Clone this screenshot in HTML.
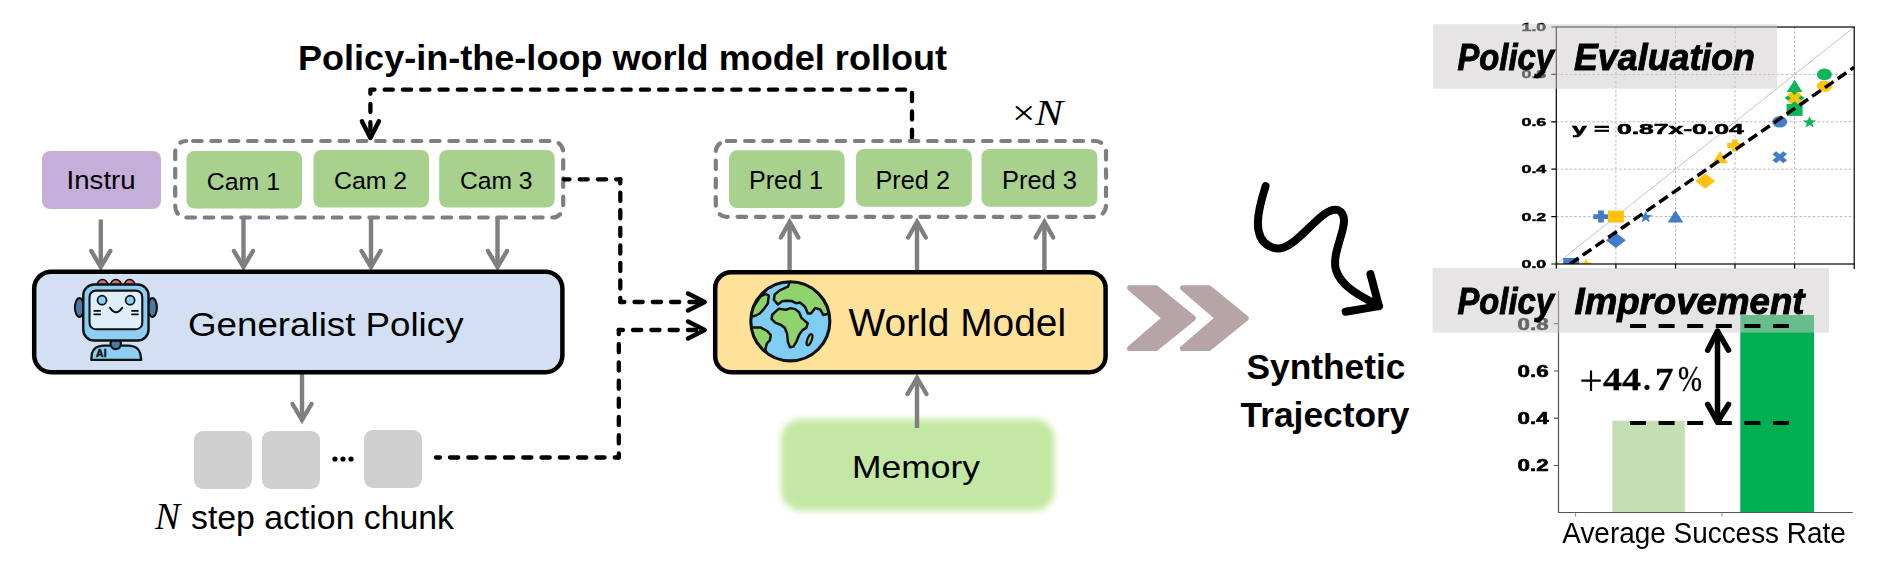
<!DOCTYPE html>
<html><head><meta charset="utf-8">
<style>
html,body{margin:0;padding:0;background:#fff;}
body{width:1890px;height:576px;overflow:hidden;}
svg{display:block;}
svg{font-family:"Liberation Sans",sans-serif;}
</style></head>
<body>
<svg width="1890" height="576" viewBox="0 0 1890 576">
<rect x="0" y="0" width="1890" height="576" fill="#fff"/>
<!-- Title -->
<text x="298" y="69.5" font-size="35" font-weight="bold" textLength="649" lengthAdjust="spacingAndGlyphs">Policy-in-the-loop world model rollout</text>

<!-- top black dashed loop -->
<path d="M370.4,136 V89.7 H912 V142" fill="none" stroke="#000" stroke-width="4.3" stroke-dasharray="8.2 10.1" stroke-dashoffset="12.7" stroke-linecap="round" stroke-linejoin="round"/>
<path d="M361.9,121.3 L370.4,138 L378.9,121.3" fill="none" stroke="#000" stroke-width="4.5" stroke-linecap="round" stroke-linejoin="round"/>

<!-- Instru -->
<rect x="42" y="151" width="119" height="58" rx="8" fill="#c5aed8"/>
<text x="66.6" y="189" font-size="25" textLength="69" lengthAdjust="spacingAndGlyphs">Instru</text>

<!-- cam group dashed -->
<rect x="175.2" y="141" width="388" height="76.5" rx="11" fill="none" stroke="#7f7f7f" stroke-width="4.2" stroke-dasharray="8.6 9.7" stroke-dashoffset="11.4" stroke-linecap="round"/>
<rect x="186.5" y="151" width="115.5" height="57.5" rx="8" fill="#a9d18e"/>
<rect x="313.5" y="150" width="115.5" height="57.5" rx="8" fill="#a9d18e"/>
<rect x="439.2" y="150" width="115.5" height="57.5" rx="8" fill="#a9d18e"/>
<text x="206.8" y="190" font-size="24.5" textLength="73.2" lengthAdjust="spacingAndGlyphs">Cam 1</text>
<text x="334" y="188.8" font-size="24.5" textLength="73.2" lengthAdjust="spacingAndGlyphs">Cam 2</text>
<text x="460" y="188.8" font-size="24.5" textLength="72.5" lengthAdjust="spacingAndGlyphs">Cam 3</text>

<defs><filter id="blur1" x="-10%" y="-20%" width="120%" height="140%"><feGaussianBlur stdDeviation="3"/></filter></defs>
<rect x="781" y="419" width="273.6" height="91.6" rx="20" fill="#c3e8a3" filter="url(#blur1)"/>
<!-- gray down arrows -->
<g stroke="#7f7f7f" stroke-width="4.4" fill="none" stroke-linecap="butt" stroke-linejoin="miter">
  <path d="M100.8,219.5 V267"/><path d="M243.5,217 V267"/><path d="M371,217 V267"/><path d="M497.5,217 V267"/>
  <path d="M302,374 V420"/>
  <path d="M789.6,270 V222"/><path d="M917,270 V222"/><path d="M1044.4,270 V222"/>
  <path d="M917,428 V378"/>
</g>
<g stroke="#7f7f7f" stroke-width="4.4" fill="none" stroke-linecap="round" stroke-linejoin="miter" stroke-miterlimit="10">
  <path d="M91.3,251 L100.8,267 L110.3,251"/>
  <path d="M234,251 L243.5,267 L253,251"/>
  <path d="M361.5,251 L371,267 L380.5,251"/>
  <path d="M488,251 L497.5,267 L507,251"/>
  <path d="M292.5,404 L302,420 L311.5,404"/>
  <path d="M780.8,237.5 L789.6,222 L798.4,237.5"/>
  <path d="M908.2,237.5 L917,222 L925.8,237.5"/>
  <path d="M1035.6,237.5 L1044.4,222 L1053.2,237.5"/>
  <path d="M907.5,394 L917,378 L926.5,394"/>
</g>
<!-- Generalist Policy -->
<rect x="34.2" y="271.7" width="528.2" height="100.5" rx="17" fill="#d3dff2" stroke="#000" stroke-width="4.5"/>
<text x="188" y="335.5" font-size="34" textLength="275.5" lengthAdjust="spacingAndGlyphs">Generalist Policy</text>

<!-- action chunk -->
<rect x="194" y="431" width="58" height="58" rx="9" fill="#d0cfcf"/>
<rect x="262" y="431" width="58" height="58" rx="9" fill="#d0cfcf"/>
<rect x="364" y="430" width="58" height="58" rx="9" fill="#d0cfcf"/>
<circle cx="335" cy="459" r="2.6" fill="#000"/><circle cx="343" cy="459" r="2.6" fill="#000"/><circle cx="351" cy="459" r="2.6" fill="#000"/>
<text x="155" y="528.6" font-size="37" style="font-family:'Liberation Serif',serif" font-style="italic" textLength="25" lengthAdjust="spacingAndGlyphs">N</text>
<text x="191" y="528.6" font-size="33" textLength="263" lengthAdjust="spacingAndGlyphs">step action chunk</text>

<!-- black dashed connectors -->
<g fill="none" stroke="#000" stroke-width="4.3" stroke-linecap="round" stroke-linejoin="round" stroke-dasharray="8.2 10.1" stroke-dashoffset="4.1">
  <path d="M620.3,179.3 H564"/>
  <path d="M620.3,179.3 V302" stroke-dasharray="8.2 9.33"/>
  <path d="M620.3,302 H698"/>
  <path d="M618.8,457.5 H436"/>
  <path d="M618.8,457.5 V330" stroke-dasharray="8.2 10.01"/>
  <path d="M618.8,330 H698"/>
</g>
<g fill="none" stroke="#000" stroke-width="4.5" stroke-linecap="round" stroke-linejoin="round">
  <path d="M688,293.5 L704.7,302 L688,310.5"/>
  <path d="M688,321.5 L704.7,330 L688,338.5"/>
</g>

<!-- Pred group -->
<rect x="715.8" y="141" width="390.2" height="75.8" rx="11" fill="none" stroke="#7f7f7f" stroke-width="4.2" stroke-dasharray="8.6 9.7" stroke-linecap="round"/>
<rect x="729" y="150.3" width="115.6" height="57.7" rx="8" fill="#a9d18e"/>
<rect x="856" y="149" width="115.8" height="57.7" rx="8" fill="#a9d18e"/>
<rect x="981.5" y="149" width="115.9" height="57.7" rx="8" fill="#a9d18e"/>
<text x="749" y="189.2" font-size="25" textLength="74" lengthAdjust="spacingAndGlyphs">Pred 1</text>
<text x="875.5" y="188.6" font-size="25" textLength="74.5" lengthAdjust="spacingAndGlyphs">Pred 2</text>
<text x="1002" y="188.6" font-size="25" textLength="75" lengthAdjust="spacingAndGlyphs">Pred 3</text>
<text x="1012" y="125" font-size="36" style="font-family:'Liberation Serif',serif" textLength="51" lengthAdjust="spacingAndGlyphs">×<tspan font-style="italic">N</tspan></text>

<!-- World Model -->
<rect x="715.2" y="272.2" width="390.4" height="100" rx="16" fill="#ffe299" stroke="#000" stroke-width="4.5"/>
<text x="848.5" y="336.2" font-size="39" textLength="217.6" lengthAdjust="spacingAndGlyphs">World Model</text>


<!-- robot icon -->
<g transform="translate(60,270) scale(0.17361)" stroke="#111" stroke-linejoin="round" stroke-linecap="round">
  <ellipse cx="245" cy="88" rx="31" ry="33" fill="#d9686c" stroke-width="9"/>
  <ellipse cx="322" cy="88" rx="31" ry="33" fill="#d9686c" stroke-width="9"/>
  <ellipse cx="401" cy="88" rx="31" ry="33" fill="#d9686c" stroke-width="9"/>
  <ellipse cx="112" cy="216" rx="26" ry="54" fill="#4a79a3" stroke-width="12"/>
  <ellipse cx="532" cy="216" rx="26" ry="54" fill="#4a79a3" stroke-width="12"/>
  <path d="M180,518 L184,480 Q196,438 250,436 L395,436 Q450,438 462,480 L468,518 Z" fill="#8ccff3" stroke-width="13"/>
  <circle cx="321" cy="426" r="30" fill="#4a79a3" stroke-width="12"/>
  <rect x="134" y="84" width="376" height="322" rx="62" fill="#8ccff3" stroke-width="14"/>
  <rect x="170" y="119" width="304" height="222" rx="36" fill="#dfeffa" stroke-width="12"/>
  <circle cx="242" cy="174" r="26" fill="#8ccff3" stroke-width="10"/>
  <circle cx="404" cy="174" r="26" fill="#8ccff3" stroke-width="10"/>
  <path d="M288,218 Q323,268 358,218" fill="none" stroke-width="11"/>
  <path d="M197,235 H232 M197,255 H232 M414,235 H449 M414,255 H449" fill="none" stroke-width="10"/>
  <text x="208" y="502" font-size="60" font-weight="bold" fill="#111" stroke="#111" stroke-width="3" textLength="60" lengthAdjust="spacingAndGlyphs">AI</text>
</g>
<!-- globe icon -->
<g transform="translate(745,276) scale(0.15625)" stroke="#111" stroke-linejoin="round" stroke-linecap="round">
  <circle cx="290" cy="290" r="253" fill="#7fcdf3" stroke-width="0"/>
  <clipPath id="gclip"><circle cx="290" cy="290" r="253"/></clipPath>
  <g clip-path="url(#gclip)" fill="#8fd36d" stroke-width="16">
    <path d="M290,30 L275,68 L222,92 L190,118 L185,152 L210,182 L238,162 L262,158 L298,160 L330,175 L352,170 L385,198 L402,240 L422,240 L450,205 L482,215 L502,250 L535,240 L560,180 L520,80 L420,20 Z"/>
    <path d="M185,238 L215,210 L262,216 L292,206 L322,212 L346,232 L360,266 L388,292 L402,302 L392,332 L366,348 L346,378 L330,418 L310,452 L288,456 L274,420 L270,372 L255,332 L228,312 L196,300 L170,276 L174,248 Z"/>
    <path d="M20,330 L102,330 L142,352 L165,378 L160,410 L140,432 L130,468 L142,500 L60,560 L0,500 Z"/>
    <path d="M30,230 L100,130 L132,114 L152,125 L146,176 L120,212 L95,240 L62,256 L20,260 Z"/>
  </g>
  <ellipse cx="413" cy="408" rx="14" ry="38" transform="rotate(20 413 408)" fill="#8fd36d" stroke-width="14"/>
  <circle cx="290" cy="290" r="253" fill="none" stroke-width="20"/>
</g>

<!-- Memory -->

<text x="852" y="477.9" font-size="32" textLength="128" lengthAdjust="spacingAndGlyphs">Memory</text>

<!-- Chevrons -->
<path d="M1129.5,287.8 H1156 L1193.5,318.2 L1156,348.5 H1129.5 L1164.5,318.2 Z" fill="#b7a5a5" stroke="#b7a5a5" stroke-width="5" stroke-linejoin="round"/>
<path d="M1182.4,287.8 H1209 L1246.4,318.2 L1209,348.5 H1182.4 L1217.5,318.2 Z" fill="#b7a5a5" stroke="#b7a5a5" stroke-width="5" stroke-linejoin="round"/>

<!-- squiggle -->
<path d="M1265.6,186.1 C1258,210 1250,240 1273.3,247.8 C1295,255 1320,205 1338,210 C1355,218 1330,250 1336,270 C1342,290 1370,300 1378.9,306.1" fill="none" stroke="#000" stroke-width="8" stroke-linecap="round" stroke-linejoin="round"/>
<path d="M1370.5,274.2 L1378.9,306.1 L1345.6,311.7" fill="none" stroke="#000" stroke-width="8" stroke-linecap="round" stroke-linejoin="round"/>

<text x="1246.5" y="378.6" font-size="35.5" font-weight="bold" textLength="159" lengthAdjust="spacingAndGlyphs">Synthetic</text>
<text x="1240.5" y="426.8" font-size="35.5" font-weight="bold" textLength="169" lengthAdjust="spacingAndGlyphs">Trajectory</text>


<!-- ===== Right panel: scatter ===== -->
<defs><clipPath id="axclip"><rect x="1556.3" y="27" width="297.9" height="237"/></clipPath></defs>
<path d="M1615.9,27.0 V264.0 M1556.3,216.6 H1854.2 M1675.5,27.0 V264.0 M1556.3,169.2 H1854.2 M1735.0,27.0 V264.0 M1556.3,121.8 H1854.2 M1794.6,27.0 V264.0 M1556.3,74.4 H1854.2" stroke="#b8b8b8" stroke-width="1" stroke-dasharray="2.5 2" fill="none"/>
<path d="M1556.3,264.0 L1854.2,27.0" stroke="#a8a8a8" stroke-width="0.7" fill="none"/>
<g clip-path="url(#axclip)" opacity="0.95"><rect x="1563.2" y="258.0" width="16" height="12" fill="#3a75c4"/><path d="M1586.1,258.3 L1587.8,262.5 L1592.7,262.7 L1588.9,265.4 L1590.2,269.7 L1586.1,267.2 L1582.0,269.7 L1583.3,265.4 L1579.4,262.7 L1584.4,262.5 Z" fill="#ffc000"/><path d="M1598.1,210.6 H1603.9 V214.2 H1608.7 V219.0 H1603.9 V222.6 H1598.1 V219.0 H1593.3 V214.2 H1598.1 Z" fill="#3a75c4"/><rect x="1607.9" y="210.6" width="16" height="12" fill="#ffc000"/><path d="M1615.9,232.7 L1625.9,240.3 L1615.9,247.9 L1605.9,240.3 Z" fill="#3a75c4"/><path d="M1645.7,210.9 L1647.4,215.1 L1652.3,215.3 L1648.5,218.0 L1649.8,222.3 L1645.7,219.8 L1641.6,222.3 L1642.9,218.0 L1639.0,215.3 L1643.9,215.1 Z" fill="#3a75c4"/><path d="M1675.5,210.2 L1683.3,222.4 L1667.7,222.4 Z" fill="#3a75c4"/><path d="M1705.2,173.5 L1715.2,181.1 L1705.2,188.7 L1695.2,181.1 Z" fill="#ffc000"/><path d="M1720.1,150.9 L1727.9,163.2 L1712.3,163.2 Z" fill="#ffc000"/><path d="M1732.1,139.5 H1737.9 V143.1 H1742.7 V147.9 H1737.9 V151.5 H1732.1 V147.9 H1727.3 V143.1 H1732.1 Z" fill="#ffc000"/><ellipse cx="1779.7" cy="121.8" rx="7.5" ry="5.8" fill="#3a75c4"/><g transform="translate(1779.7,157.3) scale(1.0,0.82)"><path d="M-7.3,-3.6 L-3.6,-7.3 L0,-3.7 L3.6,-7.3 L7.3,-3.6 L3.7,0 L7.3,3.6 L3.6,7.3 L0,3.7 L-3.6,7.3 L-7.3,3.6 L-3.7,0 Z" fill="#3a75c4"/></g><path d="M1794.6,79.8 L1802.4,92.0 L1786.8,92.0 Z" fill="#00b050"/><path d="M1794.6,90.5 L1804.6,98.1 L1794.6,105.7 L1784.6,98.1 Z" fill="#00b050"/><g transform="translate(1794.6,98.1) scale(1.0,0.82)"><path d="M-7.3,-3.6 L-3.6,-7.3 L0,-3.7 L3.6,-7.3 L7.3,-3.6 L3.7,0 L7.3,3.6 L3.6,7.3 L0,3.7 L-3.6,7.3 L-7.3,3.6 L-3.7,0 Z" fill="#ffc000"/></g><rect x="1786.6" y="103.9" width="16" height="12" fill="#00b050"/><path d="M1809.5,116.1 L1811.2,120.3 L1816.2,120.5 L1812.3,123.2 L1813.6,127.5 L1809.5,125.0 L1805.4,127.5 L1806.7,123.2 L1802.9,120.5 L1807.8,120.3 Z" fill="#00b050"/><ellipse cx="1824.4" cy="74.4" rx="7.5" ry="5.8" fill="#00b050"/><ellipse cx="1824.4" cy="86.2" rx="7.5" ry="5.8" fill="#ffc000"/></g>
<path d="M1570.0,264.0 L1854.2,67.3" stroke="#000" stroke-width="3.5" stroke-dasharray="10.5 5" fill="none" clip-path="url(#axclip)"/>
<rect x="1556.3" y="27" width="297.9" height="237" fill="none" stroke="#000" stroke-width="1.2"/>
<g stroke="#000" stroke-width="1.2">
  <path d="M1551.3,264 H1556.3 M1551.3,216.6 H1556.3 M1551.3,169.2 H1556.3 M1551.3,121.8 H1556.3 M1551.3,74.4 H1556.3 M1551.3,27 H1556.3"/>
  <path d="M1556.3,264 V269 M1615.9,264 V269 M1675.5,264 V269 M1735,264 V269 M1794.6,264 V269 M1854.2,264 V269"/>
</g>
<g font-size="11" font-weight="bold" text-anchor="end" stroke="#000" stroke-width="0.45">
  <text x="1546.3" y="268" textLength="24.8" lengthAdjust="spacingAndGlyphs">0.0</text>
  <text x="1546.3" y="220.5" textLength="24.8" lengthAdjust="spacingAndGlyphs">0.2</text>
  <text x="1546.3" y="173.2" textLength="24.8" lengthAdjust="spacingAndGlyphs">0.4</text>
  <text x="1546.3" y="125.8" textLength="24.8" lengthAdjust="spacingAndGlyphs">0.6</text>
  <text x="1546.3" y="78.4" textLength="24.8" lengthAdjust="spacingAndGlyphs">0.8</text>
  <text x="1546.3" y="31" textLength="24.8" lengthAdjust="spacingAndGlyphs">1.0</text>
</g>
<text x="1572" y="134" font-size="15.5" font-weight="bold" stroke="#000" stroke-width="0.6" textLength="171.7" lengthAdjust="spacingAndGlyphs">y = 0.87x-0.04</text>
<rect x="1433" y="24.2" width="344" height="64.5" fill="rgba(205,202,202,0.5)"/>
<g font-size="37" font-weight="bold" font-style="italic" stroke="#000" stroke-width="0.9"><text x="1457.5" y="70" textLength="96.5" lengthAdjust="spacingAndGlyphs">Policy</text><text x="1574" y="70" textLength="181" lengthAdjust="spacingAndGlyphs">Evaluation</text></g>

<!-- ===== Right panel: bars ===== -->
<rect x="1612.3" y="420.8" width="72.5" height="91.7" fill="#c5dfb4"/>
<rect x="1740.3" y="315" width="73.7" height="197.5" fill="#00b050"/>
<path d="M1558.5,291 V512.5 H1852.8" fill="none" stroke="#555" stroke-width="1.2"/>
<g stroke="#555" stroke-width="1.2">
  <path d="M1553.8,323.7 H1558.5 M1553.8,371 H1558.5 M1553.8,418.2 H1558.5 M1553.8,465.5 H1558.5"/>
  <path d="M1575.6,512.5 V516.5 M1722,512.5 V516.5" stroke="#888" stroke-width="1"/>
</g>
<g font-size="16.3" font-weight="bold" text-anchor="end" stroke="#000" stroke-width="0.6">
  <text x="1548.6" y="329.5" textLength="31" lengthAdjust="spacingAndGlyphs">0.8</text>
  <text x="1548.6" y="377" textLength="31" lengthAdjust="spacingAndGlyphs">0.6</text>
  <text x="1548.6" y="424" textLength="31" lengthAdjust="spacingAndGlyphs">0.4</text>
  <text x="1548.6" y="471" textLength="31" lengthAdjust="spacingAndGlyphs">0.2</text>
</g>
<rect x="1432.6" y="268" width="396.4" height="64.6" fill="rgba(205,202,202,0.5)"/>
<g font-size="37" font-weight="bold" font-style="italic" stroke="#000" stroke-width="0.9"><text x="1457.5" y="313.5" textLength="96.5" lengthAdjust="spacingAndGlyphs">Policy</text><text x="1574.5" y="313.5" textLength="230" lengthAdjust="spacingAndGlyphs">Improvement</text></g>
<path d="M1630,326 H1790 M1630,423 H1790" stroke="#000" stroke-width="4.2" stroke-dasharray="16 12.6" fill="none"/>
<g stroke="#000" stroke-width="5.5" fill="none" stroke-linecap="round" stroke-linejoin="round">
  <path d="M1717.5,333 V421"/>
  <path d="M1707.7,350.2 L1717.5,331 L1728.5,350.2"/>
  <path d="M1707.7,404.4 L1717.5,422 L1728.5,404.4"/>
</g>
<g font-size="31.8" style="font-family:'Liberation Serif',serif">
  <path d="M1591,370.5 V391 M1581.3,380.7 H1600.8" stroke="#000" stroke-width="2.2" fill="none"/>
  <text x="1603" y="389.8" font-weight="bold" stroke="#000" stroke-width="0.3" textLength="38" lengthAdjust="spacingAndGlyphs">44</text>
  <text x="1643" y="389.8" font-weight="bold">.</text>
  <text x="1655" y="389.8" font-weight="bold" stroke="#000" stroke-width="0.3" textLength="18.5" lengthAdjust="spacingAndGlyphs">7</text>
  <text x="1678" y="391.3" font-size="36" stroke="#000" stroke-width="0.4" textLength="24" lengthAdjust="spacingAndGlyphs">%</text>
</g>
<text x="1562.3" y="543.4" font-size="28.6" textLength="283.5" lengthAdjust="spacingAndGlyphs">Average Success Rate</text>

</svg>
</body></html>
